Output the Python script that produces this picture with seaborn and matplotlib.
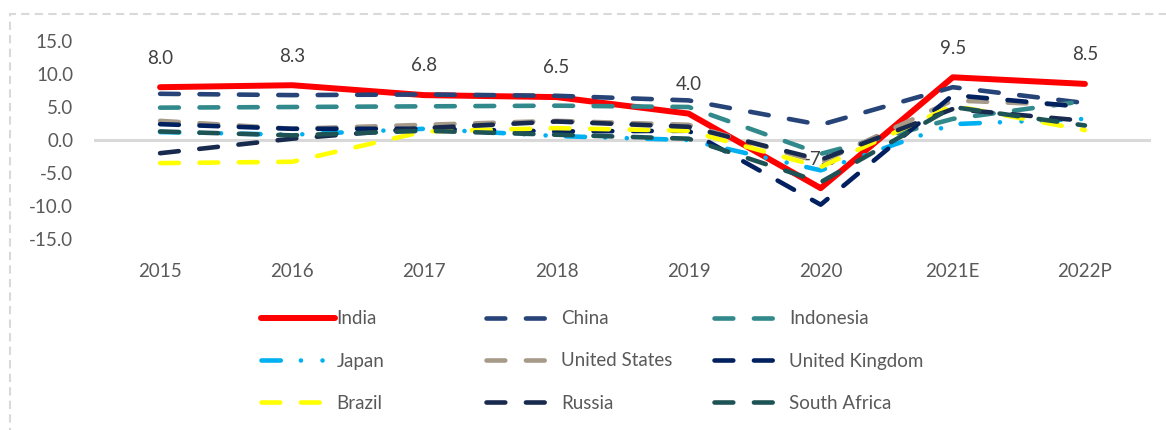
import numpy as np
import pandas as pd
import matplotlib.pyplot as plt
import seaborn as sns
from matplotlib.patches import Rectangle

# Crescimento do PIB real (%) por país
years = ['2015', '2016', '2017', '2018', '2019', '2020', '2021E', '2022P']

india = [8.0, 8.3, 6.8, 6.5, 4.0, -7.3, 9.5, 8.5]
china = [7.0, 6.8, 6.9, 6.7, 6.0, 2.3, 8.0, 5.6]
indonesia = [4.9, 5.0, 5.1, 5.2, 5.0, -2.1, 3.2, 5.9]
japan = [1.2, 0.8, 1.7, 0.6, 0.0, -4.6, 2.4, 3.2]
united_states = [2.9, 1.7, 2.3, 2.9, 2.3, -3.4, 6.0, 5.2]
united_kingdom = [2.4, 1.7, 1.7, 1.3, 1.4, -9.8, 6.8, 5.0]
brazil = [-3.5, -3.3, 1.3, 1.8, 1.4, -4.1, 5.2, 1.5]
russia = [-2.0, 0.2, 1.8, 2.8, 2.0, -3.0, 4.7, 2.9]
south_africa = [1.3, 0.7, 1.4, 0.8, 0.2, -6.4, 5.0, 2.2]

countries = ['India', 'China', 'Indonesia', 'Japan', 'United States',
             'United Kingdom', 'Brazil', 'Russia', 'South Africa']
series = [india, china, indonesia, japan, united_states,
          united_kingdom, brazil, russia, south_africa]

colors = ['#FF0000', '#264478', '#31898C', '#00B0F0', '#A69A89',
          '#002060', '#FFFF00', '#182A4E', '#1E5356']

dash = (0, (4.1, 4.5))
dash_dot_dot = (0, (4.2, 4.4, 0.01, 4.7, 0.01, 4.4))
styles = ['-', dash, dash, dash_dot_dot, dash, dash, dash, dash, dash]
widths = [4.3, 3.3, 3.3, 3.3, 3.3, 3.3, 3.3, 3.3, 3.3]

sns.set_theme(style='white')
plt.rcParams['font.family'] = ['Lato', 'DejaVu Sans']
txt_color = '#595959'

fig = plt.figure(figsize=(11.66, 4.3), dpi=100)
ax = fig.add_axes([94 / 1166, 1 - 239 / 430, (1151 - 94) / 1166, (239 - 41) / 430])

x = np.arange(len(years))
ax.axhline(0, color='#D9D9D9', lw=2.2, zorder=1)

handles = {}
for name, vals, c, ls, lw in zip(countries, series, colors, styles, widths):
    sns.lineplot(x=x, y=vals, ax=ax, color=c, linestyle=ls, linewidth=lw,
                 sort=False, solid_capstyle='round', dash_capstyle='round',
                 zorder=3)
    handles[name] = ax.lines[-1]

# rótulos de dados da Índia
for xi, v in zip(x, india):
    ax.annotate(f'{v:.1f}', (xi, v), xytext=(0, 21), textcoords='offset points',
                ha='center', va='center', fontsize=13.5, color='#404040', zorder=2)

ax.set_xlim(-0.5, len(years) - 0.5)
ax.set_ylim(-15, 15)
ax.set_yticks(np.arange(-15, 16, 5))
ax.set_yticklabels([f'{v:.1f}' for v in np.arange(-15, 16, 5)])
ax.set_xticks(x)
ax.set_xticklabels(years)
ax.tick_params(axis='both', length=0, labelsize=13.5, labelcolor=txt_color)
ax.tick_params(axis='x', pad=17)
ax.tick_params(axis='y', pad=15)
for s in ax.spines.values():
    s.set_visible(False)
ax.grid(False)
ax.set_xlabel('')
ax.set_ylabel('')

# legenda em 3 colunas (uma legenda por coluna)
cols = [['India', 'Japan', 'Brazil'],
        ['China', 'United States', 'Russia'],
        ['Indonesia', 'United Kingdom', 'South Africa']]
col_x = [252, 477, 705]
for names, cx in zip(cols, col_x):
    fig.legend([handles[n] for n in names], names, loc='center left',
               bbox_to_anchor=(cx / 1166, 1 - 361 / 430), frameon=False,
               fontsize=13.5, handlelength=3.9, handletextpad=0.1,
               borderpad=0, labelspacing=1.35, labelcolor=txt_color)

# moldura tracejada
fig.patches.append(Rectangle((10 / 1166, -0.2), 1.2, 1.2 - 14 / 430,
                             transform=fig.transFigure, fill=False,
                             edgecolor='#D9D9D9', lw=1.5,
                             linestyle=(0, (4, 2.5)), clip_on=False))

fig.savefig('out.png', dpi=100)
